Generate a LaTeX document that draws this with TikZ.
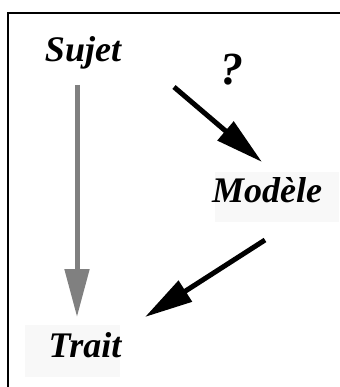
\documentclass[tikz,border=0pt]{standalone}
\usepackage{fontspec}
\setmainfont{Liberation Serif}
\usetikzlibrary{arrows.meta}
\definecolor{arrgray}{HTML}{808080}
\definecolor{bgfaint}{HTML}{F8F8F8}
\tikzset{
  lbl/.style={inner sep=0pt, anchor=base, font=\fontsize{36}{42}\selectfont\bfseries\itshape},
  qmark/.style={inner sep=0pt, anchor=base, font=\fontsize{46}{52}\selectfont\bfseries\itshape},
  bigarrow/.style={line width=5pt, -{Triangle[length=48pt,width=24pt]}},
  frameline/.style={line width=2pt, line cap=rect},
}
\begin{document}
\begin{tikzpicture}[x=1pt,y=-1pt]
\useasboundingbox (0,0) rectangle (339,387);
% faint backgrounds
\fill[bgfaint] (25,325) rectangle (120,377);
\fill[bgfaint] (215,172) rectangle (339,222);
% frame
\coordinate (fa) at (8,387);
\coordinate (fb) at (8,13);
\coordinate (fc) at (340,13);
\draw[frameline] (fa) -- (fb) -- (fc);
% labels
\node[lbl] (sujet) at (83,62) {Sujet};
\node[qmark] (q) at (232,85) {?};
\node[lbl] (modele) at (267,202) {Modèle};
\node[lbl] (trait) at (85,357) {Trait};
% arrow end points
\coordinate (g1) at (77,85);
\coordinate (g2) at (77,317);
\coordinate (b1) at (174,87);
\coordinate (b2) at (262,162);
\coordinate (c1) at (265,240);
\coordinate (c2) at (145,317);
\draw[bigarrow, draw=arrgray, fill=arrgray, line cap=butt] (g1) -- (g2);
\draw[bigarrow, line cap=butt] (b1) -- (b2);
\draw[bigarrow, line cap=butt] (c1) -- (c2);
\end{tikzpicture}
\end{document}
